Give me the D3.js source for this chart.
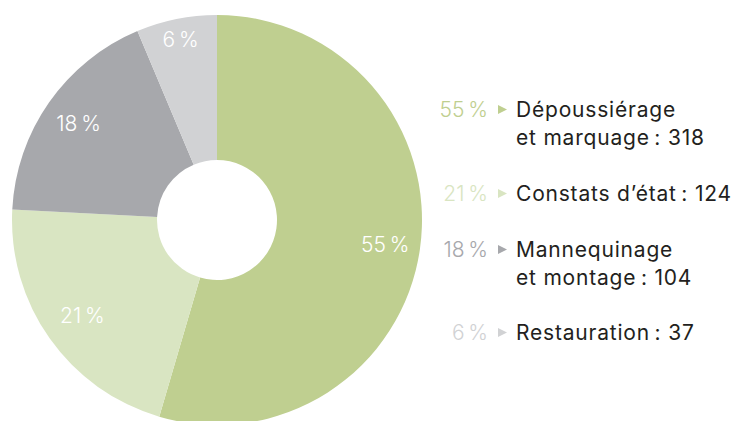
<!DOCTYPE html>
<html>
<head>
<meta charset="utf-8">
<script src="https://cdn.jsdelivr.net/npm/d3@7"></script>
<style>
	body { margin: 0; background: #fff; }
	svg { display: block; font-family: "Inter", "DejaVu Sans", sans-serif; }
</style>
</head>
<body>
<div id="chart"></div>
<script>
'use strict'

// values
let categories = ["Dépoussiérage et marquage", "Constats d’état", "Mannequinage et montage", "Restauration"]
let legendLines = [["Dépoussiérage", "et marquage"], ["Constats d’état"], ["Mannequinage", "et montage"], ["Restauration"]]
let counts = [318, 124, 104, 37]
let percents = ["55\u202F%", "21\u202F%", "18\u202F%", "6\u202F%"]
let colors = ["#bfcf90", "#d9e5c2", "#a7a8ac", "#d1d2d4"]

function renderDonut(width, height){
	let svg = d3.select("#chart").append("svg")
		.attr("width", width)
		.attr("height", height)

	let cx = 217, cy = 220
	let outerR = 205, innerR = 60
	// label distance from centre, per slice (the original places them by hand)
	let labelR = [170, 165, 169, 184]

	let pie = d3.pie().sort(null).value(function(d){ return d })
	let arcs = pie(counts)

	let arc = d3.arc().innerRadius(innerR).outerRadius(outerR)

	let g = svg.append("g").attr("transform", "translate(" + cx + "," + cy + ")")

	g.selectAll(".slice").data(arcs).enter().append("path")
		.attr("class", "slice")
		.attr("d", arc)
		.attr("fill", function(d, i){ return colors[i] })

	g.selectAll(".slice-label").data(arcs).enter().append("text")
		.attr("class", "slice-label")
		.attr("transform", function(d, i){
			let c = d3.arc().innerRadius(labelR[i]).outerRadius(labelR[i]).centroid(d)
			return "translate(" + c + ")"
		})
		.attr("dy", "0.36em")
		.attr("text-anchor", "middle")
		.attr("fill", "#fff")
		.style("font-size", "21px")
		.style("font-weight", 300)
		.style("letter-spacing", "0.6px")
		.text(function(d, i){ return percents[i] })

	// legend
	let lineH = 28
	let baselines = [117, 201, 257, 340]

	let items = svg.selectAll(".legend-item").data(categories).enter().append("g")
		.attr("class", "legend-item")
		.attr("transform", function(d, i){ return "translate(0," + baselines[i] + ")" })

	items.append("text")
		.attr("x", 488)
		.attr("text-anchor", "end")
		.attr("fill", function(d, i){ return colors[i] })
		.style("font-size", "21px")
		.style("font-weight", 300)
		.style("letter-spacing", "0.6px")
		.text(function(d, i){ return percents[i] })

	items.append("path")
		.attr("d", "M498,-12 L507,-7.5 L498,-3 Z")
		.attr("fill", function(d, i){ return colors[i] })

	let labels = items.append("text")
		.attr("x", 516)
		.attr("fill", "#231f20")
		.style("font-size", "21px")
		.style("font-weight", 400)
		.style("letter-spacing", "0.8px")

	labels.each(function(d, i){
		let t = d3.select(this)
		let lines = legendLines[i]
		lines.forEach(function(line, j){
			let txt = line
			if (j == lines.length - 1) txt = line + "\u202F: " + counts[i]
			t.append("tspan").attr("x", 516).attr("dy", j == 0 ? 0 : lineH).text(txt)
		})
	})
}

renderDonut(741, 421)
</script>
</body>
</html>
